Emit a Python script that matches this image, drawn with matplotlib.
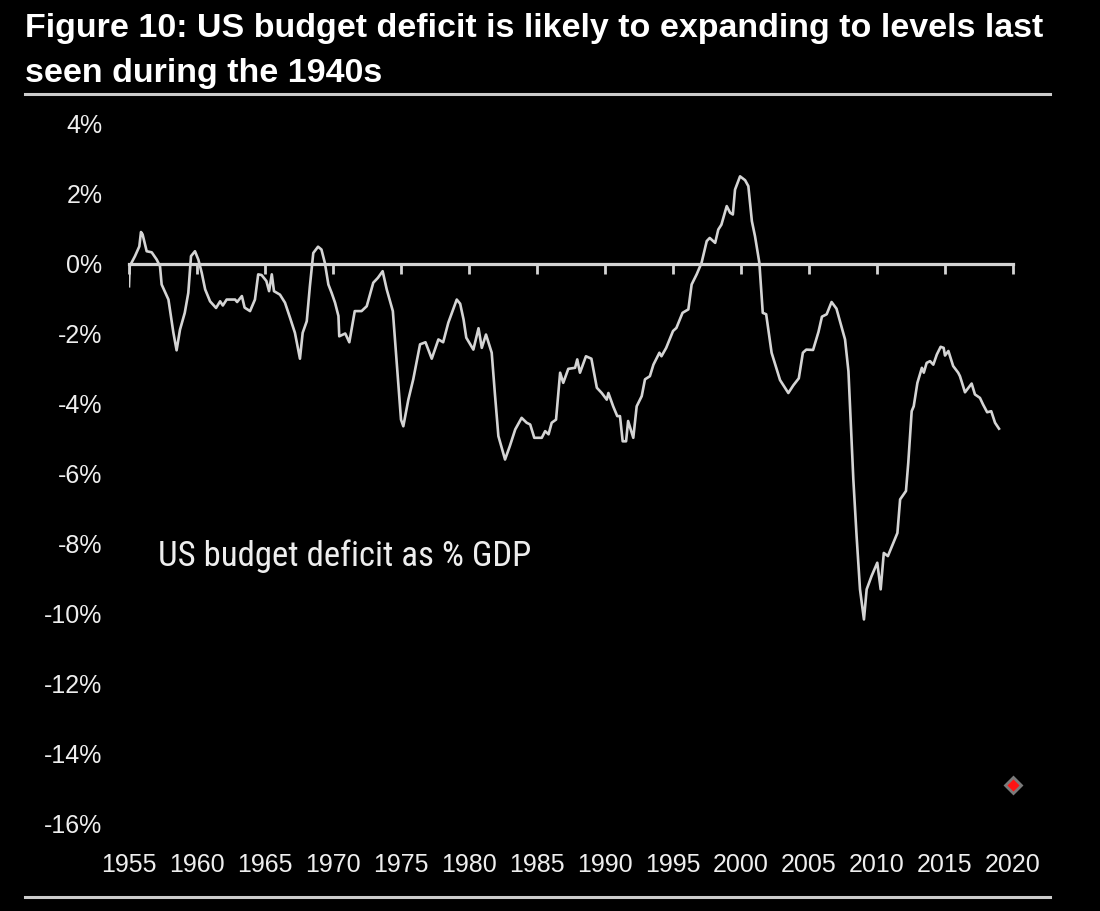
import numpy as np
import matplotlib
matplotlib.use("Agg")
import matplotlib.pyplot as plt
from matplotlib import font_manager as fm
from matplotlib.lines import Line2D

# 1. data (US budget balance as % of GDP)
years = [1955.00, 1955.05, 1955.44, 1955.76, 1955.88, 1956.00, 1956.30, 1956.67, 1957.04, 1957.28,
         1957.40, 1957.90, 1958.26, 1958.50, 1958.75, 1959.10, 1959.36, 1959.56, 1959.85, 1960.10,
         1960.35, 1960.60, 1960.96, 1961.40, 1961.70, 1961.90, 1962.18, 1962.80, 1962.95, 1963.30,
         1963.50, 1963.90, 1964.26, 1964.50, 1964.75, 1965.10, 1965.30, 1965.50, 1965.66, 1966.10,
         1966.47, 1966.84, 1967.20, 1967.57, 1967.77, 1968.07, 1968.30, 1968.55, 1968.90, 1969.15,
         1969.40, 1969.66, 1969.90, 1970.15, 1970.40, 1970.46, 1970.90, 1971.20, 1971.60, 1972.10,
         1972.48, 1972.96, 1973.30, 1973.65, 1973.95, 1974.40, 1974.70, 1975.00, 1975.17, 1975.54,
         1975.90, 1976.40, 1976.80, 1977.26, 1977.75, 1978.10, 1978.48, 1979.10, 1979.35, 1979.60,
         1979.80, 1980.32, 1980.70, 1980.94, 1981.25, 1981.67, 1981.90, 1982.16, 1982.65, 1983.00,
         1983.40, 1983.87, 1984.24, 1984.50, 1984.80, 1985.35, 1985.60, 1985.85, 1986.08, 1986.40,
         1986.70, 1986.93, 1987.30, 1987.80, 1987.96, 1988.16, 1988.60, 1989.00, 1989.40, 1989.76,
         1990.13, 1990.25, 1990.60, 1990.90, 1991.10, 1991.30, 1991.55, 1991.70, 1992.08, 1992.33,
         1992.70, 1992.94, 1993.30, 1993.56, 1994.00, 1994.15, 1994.50, 1995.00, 1995.25, 1995.70,
         1996.13, 1996.37, 1996.74, 1997.10, 1997.48, 1997.70, 1998.10, 1998.33, 1998.56, 1998.95,
         1999.20, 1999.40, 1999.56, 1999.93, 2000.30, 2000.54, 2000.80, 2001.03, 2001.35, 2001.60,
         2001.85, 2002.25, 2002.87, 2003.48, 2003.85, 2004.25, 2004.55, 2004.80, 2005.30, 2005.70,
         2005.95, 2006.30, 2006.66, 2007.02, 2007.65, 2007.90, 2008.26, 2008.50, 2008.75, 2009.04,
         2009.24, 2009.60, 2010.02, 2010.27, 2010.50, 2010.80, 2011.20, 2011.50, 2011.70, 2012.13,
         2012.30, 2012.55, 2012.70, 2012.97, 2013.30, 2013.44, 2013.65, 2013.90, 2014.14, 2014.40,
         2014.68, 2014.90, 2015.00, 2015.25, 2015.60, 2015.97, 2016.10, 2016.47, 2016.96, 2017.20,
         2017.57, 2017.80, 2018.10, 2018.40, 2018.68, 2018.97]
deficit_pct = [-0.65, -0.08, 0.21, 0.49, 0.90, 0.83, 0.35, 0.32, 0.11, -0.08,
               -0.60, -1.03, -1.97, -2.48, -1.89, -1.41, -0.84, 0.21, 0.35, 0.11,
               -0.27, -0.74, -1.08, -1.27, -1.08, -1.20, -1.03, -1.03, -1.10, -0.93,
               -1.26, -1.36, -1.03, -0.31, -0.33, -0.50, -0.79, -0.31, -0.79, -0.89,
               -1.12, -1.55, -1.98, -2.72, -1.98, -1.65, -0.65, 0.30, 0.48, 0.40,
               0.02, -0.60, -0.84, -1.12, -1.50, -2.08, -2.00, -2.25, -1.36, -1.36,
               -1.22, -0.55, -0.41, -0.22, -0.74, -1.36, -2.93, -4.46, -4.65, -3.89,
               -3.31, -2.31, -2.25, -2.72, -2.17, -2.25, -1.69, -1.03, -1.15, -1.60,
               -2.12, -2.46, -1.85, -2.41, -2.03, -2.55, -3.70, -4.93, -5.60, -5.22,
               -4.74, -4.41, -4.55, -4.60, -4.98, -4.98, -4.79, -4.88, -4.55, -4.46,
               -3.12, -3.41, -3.01, -2.98, -2.74, -3.12, -2.65, -2.72, -3.55, -3.70,
               -3.89, -3.70, -4.08, -4.36, -4.36, -5.08, -5.08, -4.50, -4.98, -4.08,
               -3.79, -3.31, -3.22, -2.89, -2.55, -2.65, -2.41, -1.93, -1.84, -1.41,
               -1.31, -0.60, -0.31, 0.02, 0.64, 0.73, 0.59, 0.97, 1.11, 1.64,
               1.45, 1.40, 2.11, 2.49, 2.38, 2.21, 1.21, 0.78, 0.02, -1.41,
               -1.45, -2.55, -3.33, -3.70, -3.48, -3.28, -2.55, -2.46, -2.47, -1.95,
               -1.52, -1.45, -1.10, -1.29, -2.17, -3.08, -6.17, -7.79, -9.31, -10.17,
               -9.31, -8.93, -8.55, -9.31, -8.27, -8.36, -7.98, -7.70, -6.74, -6.50,
               -5.69, -4.22, -4.08, -3.41, -2.98, -3.12, -2.84, -2.79, -2.89, -2.60,
               -2.38, -2.41, -2.63, -2.50, -2.93, -3.12, -3.22, -3.68, -3.43, -3.74,
               -3.84, -4.03, -4.25, -4.22, -4.55, -4.72]
forecast_year = [2020]
forecast_pct = [-14.9]

x_ticks = list(range(1955, 2021, 5))
y_ticks = list(range(-16, 5, 2))
y_labels = [f"{v}%" for v in y_ticks]

title_lines = ["Figure 10: US budget deficit is likely to expanding to levels last",
               "seen during the 1940s"]
series_label = "US budget deficit as % GDP"


# 2. fonts: Arial-like for ticks/title, a condensed face for the in-chart label
def weight_num(w):
    if isinstance(w, str):
        return fm.weight_dict.get(w, 400)
    return int(w)


def pick_condensed():
    prefs = ["Liberation Sans Narrow", "Arial Narrow", "Roboto Condensed",
             "Noto Sans", "Open Sans", "Roboto", "DejaVu Sans"]
    for fam in prefs:
        for f in fm.fontManager.ttflist:
            if not f.name.startswith(fam) or f.style != "normal":
                continue
            if "Extra" in f.name or "Semi" in f.name or f.stretch == "extra-condensed":
                continue
            cond = ("Narrow" in f.name or "Condensed" in f.name
                    or f.stretch in ("condensed", "semi-condensed"))
            if cond and weight_num(f.weight) == 400:
                return fm.FontProperties(fname=f.fname)
    return fm.FontProperties(family="Liberation Sans")


fp_cond = pick_condensed()
base = "Liberation Sans"

txt_col = "#eeeeee"
line_col = "#d4d4d4"

# 3. figure / axes
W, H = 1100, 911
fig = plt.figure(figsize=(W / 100, H / 100), dpi=100, facecolor="black")
ax = fig.add_axes([129 / W, (H - 823.5) / H, (1013 - 129) / W, 700 / H])
ax.set_facecolor("black")

ax.plot(years, deficit_pct, color=line_col, lw=1.9, solid_joinstyle="round")
ax.plot(forecast_year, forecast_pct, ls="none", marker="D", ms=8.5,
        mfc="#ff1414", mec="#7a7a7a", mew=2, clip_on=False)

ax.set_xlim(1955, 2020)
ax.set_ylim(-16, 4)

for s in ["top", "right", "left", "bottom"]:
    ax.spines[s].set_visible(False)

# year labels along the bottom of the plot area
ax.set_xticks(x_ticks)
ax.set_xticklabels([str(y) for y in x_ticks], family=base, fontsize=18, color=txt_col)
ax.tick_params(axis="x", length=0, pad=21)

ax.set_yticks(y_ticks)
ax.set_yticklabels(y_labels, family=base, fontsize=18, color=txt_col)
ax.tick_params(axis="y", length=0, pad=19)

# zero line with hanging tick marks
zero_pos = (0 - (-16)) / (4 - (-16))
zl = ax.secondary_xaxis(zero_pos)
zl.set_alignment("bottom")
zl.set_xticks(x_ticks)
zl.spines["bottom"].set_visible(True)
zl.spines["bottom"].set_color(line_col)
zl.spines["bottom"].set_linewidth(2.3)
zl.spines["top"].set_visible(False)
zl.xaxis.set_ticks_position("bottom")
zl.tick_params(direction="out", length=7, width=2, color=line_col,
               labelbottom=False, labeltop=False)

ax.text(1957.1, -8.37, series_label, ha="left", va="center",
        fontproperties=fp_cond, fontsize=25, color=txt_col)

# 4. title + rules
t1 = fig.text(25 / W, 1 - 37.3 / H, title_lines[0], ha="left", va="baseline",
              family=base, fontweight="bold", fontsize=24.5, color="white")
t2 = fig.text(25 / W, 1 - 81.7 / H, title_lines[1], ha="left", va="baseline",
              family=base, fontweight="bold", fontsize=24.5, color="white")
fig.canvas.draw()
w = t1.get_window_extent().width
if abs(w - 1015) > 8:
    size = 24.5 * 1015 / w
    t1.set_fontsize(size)
    t2.set_fontsize(size)

fig.add_artist(Line2D([25 / W, 1050 / W], [1 - 94 / H, 1 - 94 / H],
                      transform=fig.transFigure, color="#cccccc", lw=2.2))
fig.add_artist(Line2D([25 / W, 1050 / W], [1 - 897 / H, 1 - 897 / H],
                      transform=fig.transFigure, color="#cccccc", lw=2.2))

fig.savefig("out.png", dpi=100, facecolor="black")
